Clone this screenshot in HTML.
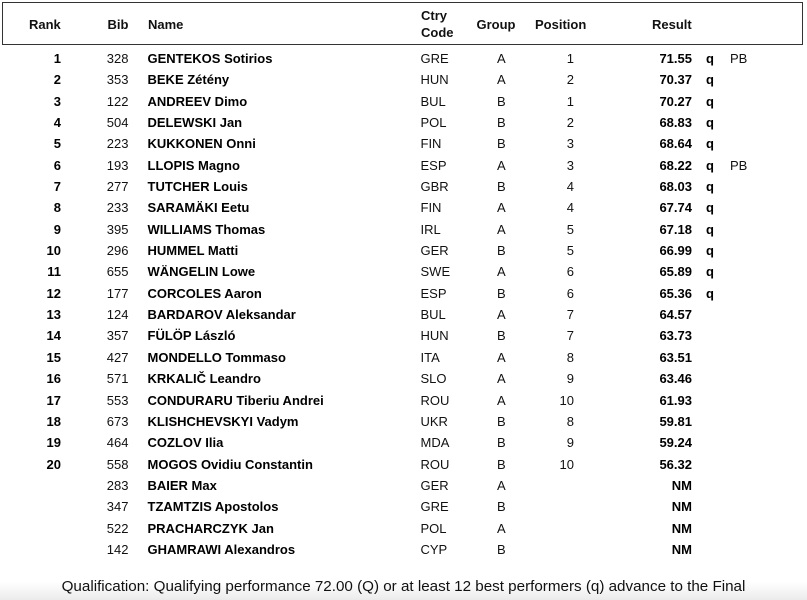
<!DOCTYPE html>
<html>
<head>
<meta charset="utf-8">
<style>
  html, body { margin:0; padding:0; }
  body {
    width:807px; height:600px; position:relative; overflow:hidden;
    background:#fff;
    font-family:"Liberation Sans", Arial, sans-serif;
    color:#111;
  }
  .fade {
    position:absolute; left:0; top:582px; width:807px; height:18px;
    background:linear-gradient(to bottom, #ffffff 0%, #f3f3f3 60%, #ebebeb 100%);
  }
  .hbox {
    position:absolute; left:2px; top:2px; width:801px; height:43px;
    box-sizing:border-box; border:1.5px solid #333;
  }
  .h {
    position:absolute; font-weight:bold; font-size:13px; line-height:16px; white-space:nowrap; color:#111;
  }
  .rows { position:absolute; left:0; top:47.82px; width:807px; }
  .r { position:relative; height:21.37px; font-size:13px; line-height:21.37px; white-space:nowrap; }
  .r span { position:absolute; top:0; }
  .rk { left:10px; width:51px; text-align:right; font-weight:bold; color:#000; }
  .bib { left:90px; width:38.5px; text-align:right; }
  .nm { left:147.5px; font-weight:bold; color:#000; }
  .ct { left:420.5px; }
  .gr { left:497px; }
  .po { left:540px; width:34px; text-align:right; }
  .rs { left:640px; width:52px; text-align:right; font-weight:bold; color:#000; }
  .q { left:706px; font-weight:bold; color:#000; }
  .pb { left:730px; }
  .foot {
    position:absolute; left:0; top:576.5px; width:807px; text-align:center;
    font-size:15.2px; line-height:20px; color:#111; white-space:nowrap;
  }
</style>
</head>
<body>
<div class="fade"></div>
<div class="hbox"></div>
<div class="h" style="left:29px; top:16.7px;">Rank</div>
<div class="h" style="left:107.5px; top:16.7px;">Bib</div>
<div class="h" style="left:148px; top:16.7px;">Name</div>
<div class="h" style="left:421px; top:8.3px;">Ctry</div>
<div class="h" style="left:421px; top:25px;">Code</div>
<div class="h" style="left:476.5px; top:16.7px;">Group</div>
<div class="h" style="left:535px; top:16.7px;">Position</div>
<div class="h" style="left:652px; top:16.7px;">Result</div>

<div class="rows">
  <div class="r"><span class="rk">1</span><span class="bib">328</span><span class="nm">GENTEKOS Sotirios</span><span class="ct">GRE</span><span class="gr">A</span><span class="po">1</span><span class="rs">71.55</span><span class="q">q</span><span class="pb">PB</span></div>
  <div class="r"><span class="rk">2</span><span class="bib">353</span><span class="nm">BEKE Zétény</span><span class="ct">HUN</span><span class="gr">A</span><span class="po">2</span><span class="rs">70.37</span><span class="q">q</span></div>
  <div class="r"><span class="rk">3</span><span class="bib">122</span><span class="nm">ANDREEV Dimo</span><span class="ct">BUL</span><span class="gr">B</span><span class="po">1</span><span class="rs">70.27</span><span class="q">q</span></div>
  <div class="r"><span class="rk">4</span><span class="bib">504</span><span class="nm">DELEWSKI Jan</span><span class="ct">POL</span><span class="gr">B</span><span class="po">2</span><span class="rs">68.83</span><span class="q">q</span></div>
  <div class="r"><span class="rk">5</span><span class="bib">223</span><span class="nm">KUKKONEN Onni</span><span class="ct">FIN</span><span class="gr">B</span><span class="po">3</span><span class="rs">68.64</span><span class="q">q</span></div>
  <div class="r"><span class="rk">6</span><span class="bib">193</span><span class="nm">LLOPIS Magno</span><span class="ct">ESP</span><span class="gr">A</span><span class="po">3</span><span class="rs">68.22</span><span class="q">q</span><span class="pb">PB</span></div>
  <div class="r"><span class="rk">7</span><span class="bib">277</span><span class="nm">TUTCHER Louis</span><span class="ct">GBR</span><span class="gr">B</span><span class="po">4</span><span class="rs">68.03</span><span class="q">q</span></div>
  <div class="r"><span class="rk">8</span><span class="bib">233</span><span class="nm">SARAMÄKI Eetu</span><span class="ct">FIN</span><span class="gr">A</span><span class="po">4</span><span class="rs">67.74</span><span class="q">q</span></div>
  <div class="r"><span class="rk">9</span><span class="bib">395</span><span class="nm">WILLIAMS Thomas</span><span class="ct">IRL</span><span class="gr">A</span><span class="po">5</span><span class="rs">67.18</span><span class="q">q</span></div>
  <div class="r"><span class="rk">10</span><span class="bib">296</span><span class="nm">HUMMEL Matti</span><span class="ct">GER</span><span class="gr">B</span><span class="po">5</span><span class="rs">66.99</span><span class="q">q</span></div>
  <div class="r"><span class="rk">11</span><span class="bib">655</span><span class="nm">WÄNGELIN Lowe</span><span class="ct">SWE</span><span class="gr">A</span><span class="po">6</span><span class="rs">65.89</span><span class="q">q</span></div>
  <div class="r"><span class="rk">12</span><span class="bib">177</span><span class="nm">CORCOLES Aaron</span><span class="ct">ESP</span><span class="gr">B</span><span class="po">6</span><span class="rs">65.36</span><span class="q">q</span></div>
  <div class="r"><span class="rk">13</span><span class="bib">124</span><span class="nm">BARDAROV Aleksandar</span><span class="ct">BUL</span><span class="gr">A</span><span class="po">7</span><span class="rs">64.57</span></div>
  <div class="r"><span class="rk">14</span><span class="bib">357</span><span class="nm">FÜLÖP László</span><span class="ct">HUN</span><span class="gr">B</span><span class="po">7</span><span class="rs">63.73</span></div>
  <div class="r"><span class="rk">15</span><span class="bib">427</span><span class="nm">MONDELLO Tommaso</span><span class="ct">ITA</span><span class="gr">A</span><span class="po">8</span><span class="rs">63.51</span></div>
  <div class="r"><span class="rk">16</span><span class="bib">571</span><span class="nm">KRKALIČ Leandro</span><span class="ct">SLO</span><span class="gr">A</span><span class="po">9</span><span class="rs">63.46</span></div>
  <div class="r"><span class="rk">17</span><span class="bib">553</span><span class="nm">CONDURARU Tiberiu Andrei</span><span class="ct">ROU</span><span class="gr">A</span><span class="po">10</span><span class="rs">61.93</span></div>
  <div class="r"><span class="rk">18</span><span class="bib">673</span><span class="nm">KLISHCHEVSKYI Vadym</span><span class="ct">UKR</span><span class="gr">B</span><span class="po">8</span><span class="rs">59.81</span></div>
  <div class="r"><span class="rk">19</span><span class="bib">464</span><span class="nm">COZLOV Ilia</span><span class="ct">MDA</span><span class="gr">B</span><span class="po">9</span><span class="rs">59.24</span></div>
  <div class="r"><span class="rk">20</span><span class="bib">558</span><span class="nm">MOGOS Ovidiu Constantin</span><span class="ct">ROU</span><span class="gr">B</span><span class="po">10</span><span class="rs">56.32</span></div>
  <div class="r"><span class="bib">283</span><span class="nm">BAIER Max</span><span class="ct">GER</span><span class="gr">A</span><span class="rs">NM</span></div>
  <div class="r"><span class="bib">347</span><span class="nm">TZAMTZIS Apostolos</span><span class="ct">GRE</span><span class="gr">B</span><span class="rs">NM</span></div>
  <div class="r"><span class="bib">522</span><span class="nm">PRACHARCZYK Jan</span><span class="ct">POL</span><span class="gr">A</span><span class="rs">NM</span></div>
  <div class="r"><span class="bib">142</span><span class="nm">GHAMRAWI Alexandros</span><span class="ct">CYP</span><span class="gr">B</span><span class="rs">NM</span></div>
</div>

<div class="foot">Qualification: Qualifying performance 72.00 (Q) or at least 12 best performers (q) advance to the Final</div>
</body>
</html>
